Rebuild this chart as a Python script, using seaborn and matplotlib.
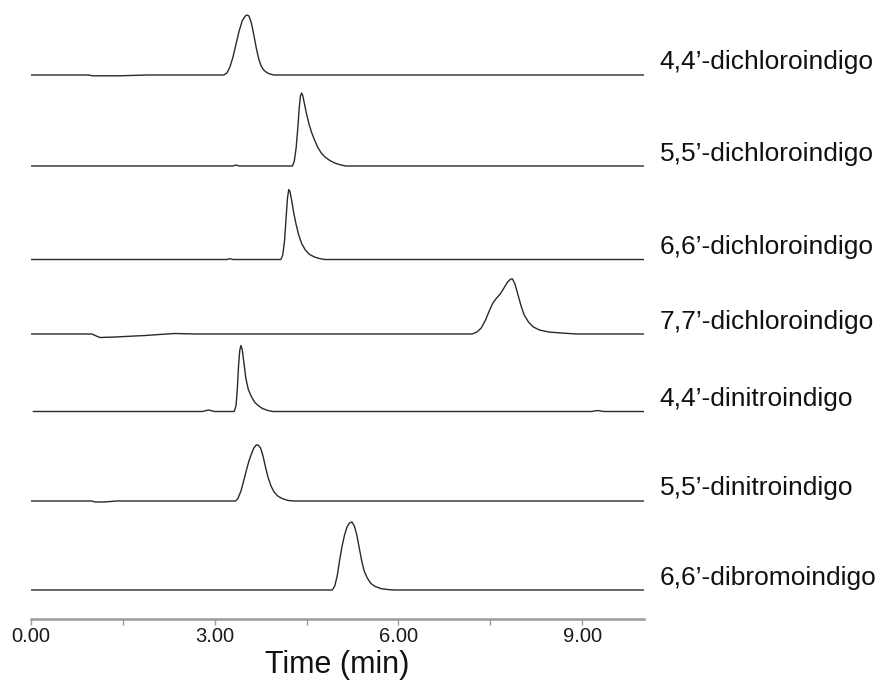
import matplotlib
matplotlib.use("Agg")
import matplotlib.pyplot as plt
import seaborn as sns
import pandas as pd

# ---- data (time in min, signal height above baseline) ----
names = ["4,4\u2019-dichloroindigo", "5,5\u2019-dichloroindigo", "6,6\u2019-dichloroindigo",
         "7,7\u2019-dichloroindigo", "4,4\u2019-dinitroindigo", "5,5\u2019-dinitroindigo",
         "6,6\u2019-dibromoindigo"]

t1 = [0, 0.95, 1.0, 1.45, 1.9, 3.15, 3.20, 3.25, 3.30, 3.35, 3.40, 3.45, 3.50, 3.53, 3.56, 3.60,
      3.64, 3.68, 3.72, 3.76, 3.80, 3.85, 3.90, 3.97, 10.0]
s1 = [0, 0, -0.8, -0.8, 0, 0, 2, 8, 18, 31, 44, 54, 59, 60, 59, 52,
      40, 27, 16, 9, 5, 2.5, 1, 0, 0]

t2 = [0, 3.30, 3.35, 3.40, 4.27, 4.30, 4.33, 4.36, 4.38, 4.40, 4.42, 4.44, 4.47, 4.50, 4.54, 4.58,
      4.63, 4.68, 4.74, 4.80, 4.88, 4.96, 5.05, 5.14, 10.0]
s2 = [0, 0, 1, 0, 0, 5, 18, 40, 58, 70, 73, 70, 61, 52, 42, 34,
      26, 19, 13, 9, 5.5, 3, 1.2, 0, 0]

t3 = [0, 3.20, 3.25, 3.30, 4.08, 4.11, 4.14, 4.17, 4.19, 4.21, 4.23, 4.26, 4.29, 4.33, 4.37, 4.42,
      4.48, 4.55, 4.63, 4.72, 4.80, 10.0]
s3 = [0, 0, 0.8, 0, 0, 4, 18, 45, 62, 70, 68, 58, 47, 35, 25, 16,
      9.5, 5, 2.5, 0.8, 0, 0]

t4 = [0, 1.0, 1.07, 1.13, 1.38, 1.70, 1.87, 2.10, 2.35, 2.70, 3.50, 7.20, 7.28, 7.35, 7.42, 7.48,
      7.54, 7.60, 7.66, 7.72, 7.78, 7.83, 7.86, 7.90, 7.95, 8.00, 8.05, 8.12, 8.20, 8.30, 8.45,
      8.65, 8.90, 10.0]
s4 = [0, 0, -2, -3.5, -3, -2, -1.5, -0.5, 0.5, 0, 0, 0, 2, 6, 14, 23,
      31, 36, 40, 46, 52, 55, 55, 50, 39, 28, 19, 12, 7, 4, 2,
      1, 0, 0]

t5 = [0.04, 2.80, 2.90, 3.00, 3.32, 3.35, 3.37, 3.39, 3.41, 3.43, 3.45, 3.48, 3.51, 3.55, 3.60,
      3.65, 3.71, 3.78, 3.87, 3.95, 9.15, 9.25, 9.35, 10.0]
s5 = [0, 0, 1.5, 0, 0, 6, 22, 45, 61, 66, 62, 48, 33, 22, 15,
      9.5, 6, 3, 1, 0, 0, 1, 0, 0]

t6 = [0, 1.0, 1.05, 1.20, 1.40, 3.34, 3.38, 3.43, 3.47, 3.52, 3.56, 3.60, 3.64, 3.68, 3.71, 3.75,
      3.79, 3.83, 3.87, 3.92, 3.97, 4.03, 4.10, 4.20, 4.30, 10.0]
s6 = [0, 0, -1, -1, 0, 0, 2.5, 10, 19, 31, 40, 47, 53, 56, 56, 53,
      45, 34, 24, 15, 9, 5, 2.5, 0.5, 0, 0]

t7 = [0, 4.92, 4.96, 5.00, 5.04, 5.08, 5.12, 5.16, 5.20, 5.24, 5.28, 5.32, 5.36, 5.40, 5.44,
      5.49, 5.55, 5.62, 5.72, 5.85, 5.95, 10.0]
s7 = [0, 0, 4, 14, 30, 44, 55, 63, 67, 68, 64, 55, 42, 29, 19,
      12, 6.5, 3.5, 1.3, 0.3, 0, 0]

times = [t1, t2, t3, t4, t5, t6, t7]
signals = [s1, s2, s3, s4, s5, s6, s7]

major_ticks = [0, 3, 6, 9]
minor_ticks = [1.5, 4.5, 7.5]
tick_labels = ["0.00", "3.00", "6.00", "9.00"]

# ---- layout (vertical stacking offsets of each trace) ----
offsets = [544, 453, 359.5, 285, 207.5, 118, 29]

sns.set_theme(style="white")
plt.rcParams["font.family"] = ["Liberation Sans", "DejaVu Sans"]

fig = plt.figure(figsize=(8.84, 6.9), dpi=100)
W, H = 884, 690
ax = fig.add_axes([30.7 / W, 71 / H, (643.7 - 30.7) / W, 614 / H])

for name, t, s, off in zip(names, times, signals, offsets):
    df = pd.DataFrame({"t": t, "y": [v + off for v in s]})
    sns.lineplot(data=df, x="t", y="y", ax=ax, color="#2a2a2a", linewidth=1.0,
                 estimator=None, sort=False)
    ax.text(10.26, off + 12.5, name, fontsize=19, ha="left", va="center",
            color="#111111", clip_on=False)

ax.set_xlim(0, 10)
ax.set_ylim(0, 614)
for sp in ["left", "right", "top"]:
    ax.spines[sp].set_visible(False)
ax.spines["bottom"].set_color("#9a9a9a")
ax.spines["bottom"].set_linewidth(1.8)

ax.set_xticks(major_ticks)
ax.set_xticklabels(tick_labels)
ax.set_xticks(minor_ticks, minor=True)
ax.tick_params(axis="x", which="both", direction="out", length=4, width=1,
               color="#9a9a9a", bottom=True)
ax.tick_params(axis="x", which="major", labelsize=14.5, labelcolor="#1a1a1a", pad=2)
ax.set_yticks([])
ax.set_ylabel("")
ax.set_xlabel("Time (min)", fontsize=22, color="#111111", labelpad=3)

fig.savefig("out.png", dpi=100)
